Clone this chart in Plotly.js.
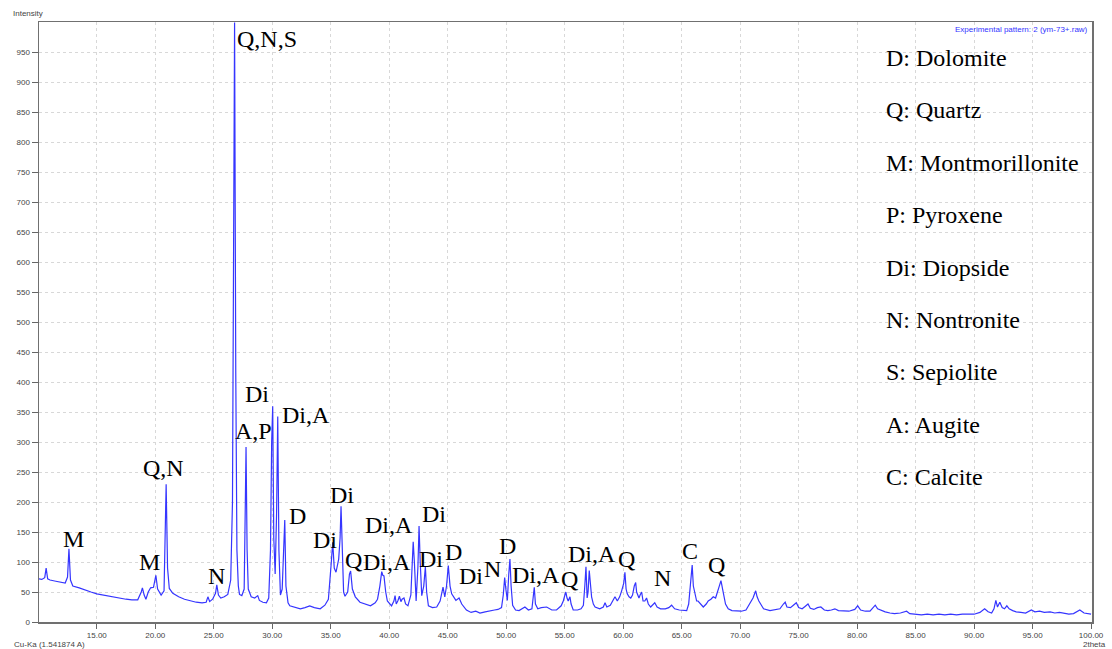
<!DOCTYPE html>
<html>
<head>
<meta charset="utf-8">
<script src="https://cdn.plot.ly/plotly-3.0.1.min.js"></script>
<style>html,body{margin:0;padding:0;background:#fff;}#chart{width:1112px;height:649px;}</style>
</head>
<body>
<div id="chart"></div>
<script>
const twoTheta = [
10.0,10.3,10.55,10.67,10.8,11.0,11.5,12.0,12.3,12.5,12.62,12.75,12.95,13.5,14.0,14.5,15.0,15.5,16.0,16.5,17.0,17.5,18.0,18.5,18.8,18.9,19.05,19.2,19.4,19.6,19.85,20.05,20.2,20.5,20.75,20.85,20.93,21.05,21.2,21.5,22.0,22.5,23.0,23.5,24.0,24.35,24.5,24.65,24.9,25.15,25.26,25.4,25.6,25.9,26.2,26.45,26.6,26.68,26.78,26.88,26.98,27.1,27.2,27.4,27.6,27.7,27.76,27.85,27.95,28.2,28.5,28.76,28.9,29.2,29.5,29.7,29.85,29.95,30.04,30.13,30.25,30.37,30.47,30.57,30.7,30.85,30.98,31.07,31.17,31.35,31.5,32.0,32.4,32.8,33.2,33.6,34.1,34.5,34.8,35.05,35.17,35.3,35.45,35.68,35.8,35.88,35.98,36.1,36.22,36.45,36.6,36.7,36.85,37.1,37.5,38.0,38.4,38.8,39.0,39.2,39.36,39.45,39.55,39.7,39.84,40.2,40.4,40.5,40.6,40.75,40.87,41.0,41.1,41.26,41.4,41.6,41.85,41.95,42.05,42.15,42.3,42.45,42.55,42.65,42.78,42.95,43.09,43.2,43.35,43.7,44.06,44.35,44.5,44.6,44.75,44.9,45.05,45.2,45.34,45.5,45.7,45.97,46.2,46.6,47.0,47.4,47.76,48.2,48.6,49.0,49.3,49.6,49.75,49.87,49.97,50.1,50.22,50.32,50.42,50.55,50.8,51.1,51.6,51.9,52.2,52.32,52.4,52.5,52.7,53.0,53.46,53.9,54.3,54.7,54.88,55.02,55.1,55.2,55.3,55.45,55.55,55.73,56.1,56.4,56.6,56.72,56.82,56.92,57.0,57.1,57.2,57.3,57.45,57.6,58.0,58.3,58.45,58.6,58.9,59.15,59.3,59.5,59.7,59.87,60.05,60.15,60.25,60.35,60.5,60.65,60.8,60.95,61.07,61.15,61.25,61.35,61.45,61.58,61.7,61.85,62.0,62.15,62.35,62.7,62.9,63.2,63.6,63.9,64.14,64.4,64.8,65.1,65.43,65.6,65.7,65.8,65.9,66.0,66.1,66.28,66.4,66.56,66.75,66.85,67.1,67.27,67.5,67.7,67.9,68.05,68.13,68.25,68.36,68.45,68.55,68.75,68.98,69.3,69.7,70.1,70.5,70.84,71.0,71.1,71.33,71.45,71.6,71.8,72.0,72.55,73.0,73.4,73.7,73.85,74.0,74.3,74.55,74.8,75.0,75.3,75.55,75.8,76.0,76.3,76.6,76.9,77.2,77.5,77.8,78.1,78.4,78.8,79.3,79.8,80.05,80.3,80.7,81.1,81.35,81.55,81.75,82.0,82.4,82.8,83.2,83.7,84.0,84.23,84.5,85.0,85.5,86.0,86.5,87.0,87.5,88.0,88.5,89.0,89.5,90.0,90.5,90.9,91.2,91.5,91.7,91.86,92.0,92.2,92.4,92.6,92.8,93.0,93.3,93.6,94.0,94.4,94.9,95.2,95.6,96.0,96.5,96.9,97.3,97.7,98.1,98.5,99.04,99.4,99.8,100.0
];
const intensity = [
72,71,74,90,72,70,68,66,65,75,122,70,60,57,53,50,47,45,43,41,40,38,37,37,50,57,45,38,50,57,58,78,55,45,52,150,230,90,56,48,42,38,35,33,32,33,42,34,38,48,62,45,40,42,46,70,200,680,1000,420,120,60,46,44,55,200,292,120,55,42,40,44,36,33,32,40,120,300,360,140,80,180,343,120,45,55,150,170,60,32,27,24,22,24,27,24,22,28,38,100,133,90,83,105,140,193,110,50,43,50,80,85,55,42,33,29,27,32,38,60,84,78,77,50,35,27,35,44,30,36,43,34,38,40,30,27,45,90,134,100,35,90,160,100,44,60,92,50,27,24,25,35,50,58,42,60,94,60,47,42,36,40,30,20,16,18,15,17,19,20,21,24,45,74,55,36,80,105,60,28,20,19,25,20,22,45,58,30,22,24,25,20,20,27,35,45,50,40,35,42,30,20,20,22,28,60,92,40,50,86,55,42,30,25,22,25,32,25,28,38,42,35,42,52,65,83,55,47,42,40,45,60,66,50,45,40,45,50,35,35,40,30,25,32,25,22,22,24,28,22,20,19,19,30,55,75,95,60,50,35,35,32,28,25,30,35,38,42,40,48,55,62,69,62,50,30,22,19,18,18,20,32,36,40,52,42,35,28,22,19,20,22,30,33,25,24,28,32,24,22,26,30,23,21,24,25,20,19,20,22,19,18,18,21,27,20,18,18,24,28,22,20,17,15,14,15,16,18,14,13,12,13,12,13,12,13,12,13,13,13,16,22,17,15,22,36,25,33,24,22,27,22,19,17,16,15,20,17,18,16,17,15,16,14,13,14,20,15,14,13
];

// phase labels placed at (2theta, intensity)
const labelText = ["Q,N,S","Di","A,P","Di,A","Q,N","M","M","N","D","Di","Di","Q","Di,A","Di,A","Di","Di","D","Di","N","D","Di,A","Q","Di,A","Q","N","C","Q"];
const labelX = [29.56,28.70,28.36,32.89,20.67,12.97,19.47,25.2,32.12,34.51,35.96,36.98,39.85,39.98,43.83,43.60,45.50,46.99,48.87,50.15,52.55,55.45,57.33,60.32,63.4,65.71,68.02];
const labelY = [972,380,318,345,257,138,100,77,177,137,212,103,100,162,180,105,117,77,88,127,78,72,113,105,73,118,95];

// legend key text
const keyText = ["D: Dolomite","Q: Quartz","M: Montmorillonite","P: Pyroxene","Di: Diopside","N: Nontronite","S: Sepiolite","A: Augite","C: Calcite"];

const xTicks = [15,20,25,30,35,40,45,50,55,60,65,70,75,80,85,90,95,100];
const yTicks = [0,50,100,150,200,250,300,350,400,450,500,550,600,650,700,750,800,850,900,950];

const W = 1112, H = 649, ML = 39, MR = 20, MT = 22, MB = 27;
const plotH = H - MT - MB;
const serif = 'Liberation Serif, Times New Roman, serif';

const annotations = [];
labelText.forEach((t, i) => {
  annotations.push({x: labelX[i], y: labelY[i], xref: 'x', yref: 'y', text: t, showarrow: false,
    xanchor: 'center', yanchor: 'middle', font: {family: serif, size: 24, color: '#000'}});
});
const keyY0 = 58, keyStep = 52.4;
keyText.forEach((t, i) => {
  const py = keyY0 + i * keyStep;
  annotations.push({x: (884 - ML) / (W - ML - MR), y: (H - MB - py) / plotH, xref: 'paper', yref: 'paper', text: t,
    showarrow: false, xanchor: 'left', yanchor: 'middle', font: {family: serif, size: 24, color: '#000'}});
});
annotations.push({x: (11 - ML) / (W - ML - MR), y: (H - MB - 14) / plotH, xref: 'paper', yref: 'paper', text: 'Intensity',
  showarrow: false, xanchor: 'left', yanchor: 'middle', font: {family: 'Liberation Sans, Arial, sans-serif', size: 8, color: '#444'}});
annotations.push({x: (1090 - ML) / (W - ML - MR), y: (H - MB - 30) / plotH, xref: 'paper', yref: 'paper', text: 'Experimental pattern: 2 (ym-73+.raw)',
  showarrow: false, xanchor: 'right', yanchor: 'middle', font: {family: 'Liberation Sans, Arial, sans-serif', size: 8, color: '#3333ff'}});
annotations.push({x: (12 - ML) / (W - ML - MR), y: (H - MB - 644) / plotH, xref: 'paper', yref: 'paper', text: 'Cu-Ka (1.541874 A)',
  showarrow: false, xanchor: 'left', yanchor: 'middle', font: {family: 'Liberation Sans, Arial, sans-serif', size: 8, color: '#444'}});
annotations.push({x: (1108 - ML) / (W - ML - MR), y: (H - MB - 644) / plotH, xref: 'paper', yref: 'paper', text: '2theta',
  showarrow: false, xanchor: 'right', yanchor: 'middle', font: {family: 'Liberation Sans, Arial, sans-serif', size: 8, color: '#444'}});

const trace = {x: twoTheta, y: intensity, type: 'scatter', mode: 'lines',
  line: {color: '#3535ff', width: 1.2}, hoverinfo: 'x+y'};

const layout = {
  width: W, height: H,
  margin: {l: ML, r: MR, t: MT, b: MB, pad: 0},
  paper_bgcolor: '#fff', plot_bgcolor: '#fff',
  showlegend: false,
  font: {family: 'Liberation Sans, Arial, sans-serif', size: 8, color: '#444'},
  xaxis: {range: [10.06, 100.08], tickvals: xTicks, tickformat: '.2f', ticks: 'outside', ticklen: 5, tickcolor: '#666',
    showgrid: true, gridcolor: '#d8d8d8', griddash: 'dot', gridwidth: 1,
    showline: true, linecolor: '#707070', linewidth: 1.5, mirror: true, zeroline: false,
    tickfont: {size: 8, color: '#444'}},
  yaxis: {range: [0, 1001], tickvals: yTicks, ticks: 'outside', ticklen: 6, tickcolor: '#666',
    showgrid: true, gridcolor: '#d8d8d8', griddash: 'dot', gridwidth: 1,
    showline: true, linecolor: '#707070', linewidth: 1.5, mirror: true, zeroline: false,
    tickfont: {size: 8, color: '#444'}},
  annotations: annotations
};

Plotly.newPlot('chart', [trace], layout, {displayModeBar: false, staticPlot: true});
</script>
</body>
</html>
